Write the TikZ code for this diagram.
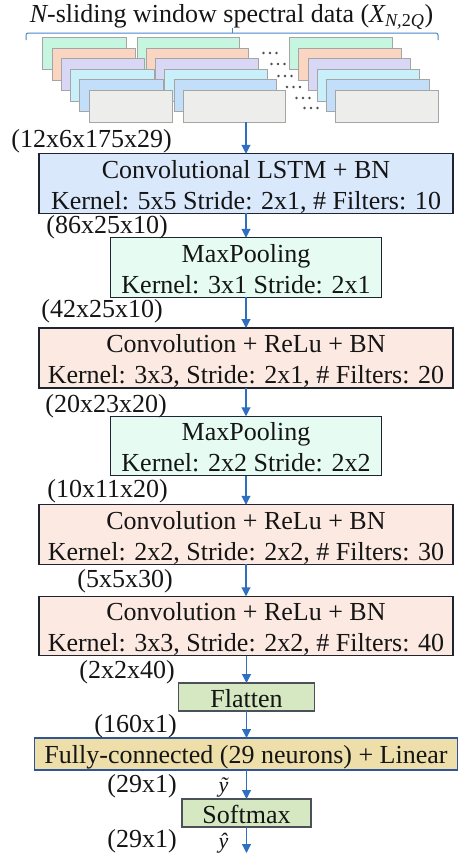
\documentclass[tikz,border=0pt]{standalone}
\usepackage{fontspec}
\setmainfont{Liberation Serif}
\usetikzlibrary{arrows.meta}
\definecolor{sgreen}{HTML}{C6F6E0}
\definecolor{sorange}{HTML}{FAD5C2}
\definecolor{spurple}{HTML}{D8D7F5}
\definecolor{scyan}{HTML}{C8EFFA}
\definecolor{sblue}{HTML}{C3DEF9}
\definecolor{sgray}{HTML}{EDEEEC}
\definecolor{sborder}{HTML}{A5A5A5}
\definecolor{arrowcol}{HTML}{2E6FC0}
\definecolor{bracecol}{HTML}{4A86C8}
\definecolor{boxline}{HTML}{1E2530}
\definecolor{lstmfill}{HTML}{DAE8FC}
\definecolor{mintfill}{HTML}{E6FCF3}
\definecolor{peachfill}{HTML}{FCE9E2}
\definecolor{greenfill}{HTML}{D5E8C1}
\definecolor{tanfill}{HTML}{EEDFAA}
\definecolor{fcline}{HTML}{2F5597}
\definecolor{dotcol}{HTML}{4D4D4D}
\definecolor{txt}{HTML}{151515}
\newcommand{\twolines}[2]{\rule{0pt}{24.5pt}#1\\#2\rule[-4pt]{0pt}{4pt}}
\begin{document}
\begin{tikzpicture}[x=1pt,y=-1pt,
  every node/.style={font=\fontsize{26}{31}\selectfont, text=txt},
  stackbox/.style={draw=sborder, line width=0.8pt, inner sep=0pt, outer sep=0pt, minimum height=32pt, anchor=north west},
  layerbox/.style={draw=boxline, line width=1.1pt, inner sep=0pt, outer sep=0pt, align=center},
  widebox/.style={layerbox, fill=peachfill, minimum width=414pt},
  poolbox/.style={layerbox, fill=mintfill, minimum width=271pt},
  smallbox/.style={draw=boxline!80, line width=1.1pt, inner sep=0pt, outer sep=0pt, fill=greenfill, minimum height=28pt, text height=20pt, text depth=0pt},
  lbl/.style={inner sep=0pt, anchor=base east},
  yvar/.style={inner sep=0pt, anchor=base, font=\fontsize{22}{26}\selectfont\itshape},
  flow/.style={draw=arrowcol, line width=1.1pt, -{Triangle[width=9pt,length=9pt]}}
]
\useasboundingbox (0,0) rectangle (458,857);

% title and bracket
\node[anchor=base, inner sep=0pt] (title) at (231.5,22.5) {{\itshape N}-sliding window spectral data ({\itshape X}\textsubscript{\itshape N,\upshape 2\itshape Q})};
\draw[bracecol, line width=1pt, rounded corners=2pt] (26,40) -- (26,33) -- (438,33) -- (438,40);
\draw[bracecol, line width=1pt] (232,33) -- (232,28);

% stacks of windows
\foreach \i/\c in {0/sgreen,1/sorange,2/spurple,3/scyan,4/sblue,5/sgray}{
  \node[stackbox, fill=\c, minimum width=83.5pt] (s1-\i) at (42.7+9.25*\i, 37.3+10.6*\i) {};
  \node[stackbox, fill=\c, minimum width=102.5pt] (s2-\i) at (137+9.25*\i, 37.3+10.6*\i) {};
  \node[stackbox, fill=\c, minimum width=102.5pt] (s3-\i) at (289.5+9.25*\i, 37.3+10.6*\i) {};
}
\foreach \x/\y in {262/53, 270/64, 277/76, 285.5/87, 295/98, 303/108}{
  \foreach \k in {0,1,2}{
    \fill[dotcol] (\x+1.5+6.5*\k,\y) circle[radius=1.3pt];
  }
}

% layers
\node[layerbox, fill=lstmfill, minimum width=414pt, minimum height=57pt] (b1) at (246,183.5) {\twolines{Convolutional LSTM + BN}{Kernel: 5x5 Stride: 2x1, \# Filters: 10}};
\node[poolbox, minimum height=59pt] (b2) at (246,267.5) {\twolines{MaxPooling}{Kernel: 3x1 Stride: 2x1}};
\node[widebox, minimum height=60pt] (b3) at (246,358) {\twolines{Convolution + ReLu + BN}{Kernel: 3x3, Stride: 2x1, \# Filters: 20}};
\node[poolbox, minimum height=58pt] (b4) at (246,446) {\twolines{MaxPooling}{Kernel: 2x2 Stride: 2x2}};
\node[widebox, minimum height=59pt] (b5) at (246,534.5) {\twolines{Convolution + ReLu + BN}{Kernel: 2x2, Stride: 2x2, \# Filters: 30}};
\node[widebox, minimum height=58pt] (b6) at (246,626) {\twolines{Convolution + ReLu + BN}{Kernel: 3x3, Stride: 2x2, \# Filters: 40}};
\node[smallbox, minimum width=136pt] (fl) at (246.5,697) {Flatten};
\node[draw=fcline, line width=1.1pt, inner sep=0pt, outer sep=0pt, fill=tanfill, minimum width=423pt, minimum height=32pt, text height=20pt, text depth=2pt] (fc) at (246,754) {Fully-connected (29 neurons) + Linear};
\node[smallbox, minimum width=129pt] (sm) at (246.5,813) {Softmax};
\coordinate (out) at (246.5,853);

% connectors
\draw[flow] (s2-5.south -| b1.north) -- (b1.north);
\draw[flow] (b1.south) -- (b2.north);
\draw[flow] (b2.south) -- (b3.north);
\draw[flow] (b3.south) -- (b4.north);
\draw[flow] (b4.south) -- (b5.north);
\draw[flow] (b5.south) -- (b6.north);
\draw[flow] (b6.south -| fl.north) -- (fl.north);
\draw[flow] (fl.south) -- (fl.south |- fc.north);
\draw[flow] (fc.south -| sm.north) -- (sm.north);
\draw[flow] (sm.south) -- (out);

% size labels
\node[lbl] (l0) at (172,147) {(12x6x175x29)};
\node[lbl] (l1) at (168,233) {(86x25x10)};
\node[lbl] (l2) at (163,317) {(42x25x10)};
\node[lbl] (l3) at (167,412) {(20x23x20)};
\node[lbl] (l4) at (168,497) {(10x11x20)};
\node[lbl] (l5) at (173,587) {(5x5x30)};
\node[lbl] (l6) at (175,678) {(2x2x40)};
\node[lbl] (l7) at (177,732) {(160x1)};
\node[lbl] (l8) at (177,792) {(29x1)};
\node[lbl] (l9) at (177,847) {(29x1)};
\node[yvar] (yt) at (223.5,792) {ỹ};
\node[yvar] (yh) at (223.5,848) {ŷ};
\end{tikzpicture}
\end{document}
